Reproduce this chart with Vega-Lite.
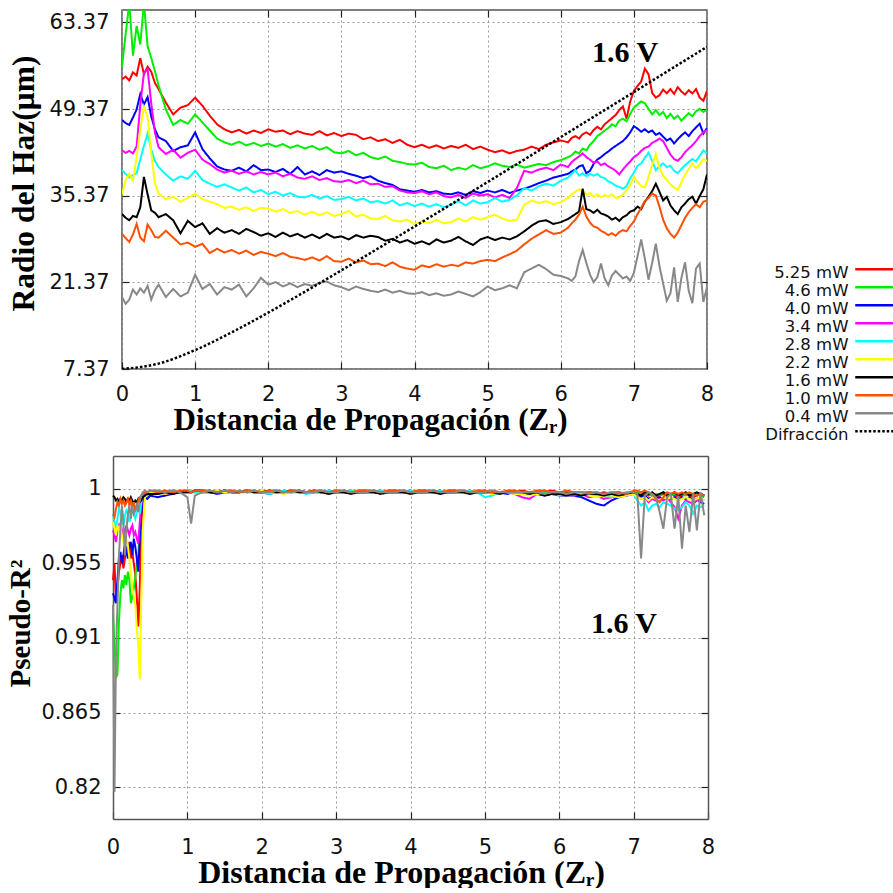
{
"$schema":"https://vega.github.io/schema/vega-lite/v6.json",
"padding":{"left":6,"top":8,"right":0,"bottom":0},
"background":"white",
"spacing":19,
"columns":1,
"align":"none",
"datasets":{
"top":[
{"x":0,"a":54.2,"b":56.2,"c":47.6,"d":42.7,"e":39.5,"f":35.6,"g":32.4,"h":29.2,"i":19.0},
{"x":0.05,"a":54.6,"b":61.5,"c":47.1,"d":42.3,"e":38.9,"f":37.9,"g":31.8,"h":28.5,"i":17.9},
{"x":0.1,"a":54.0,"b":66.5,"c":46.8,"d":42.6,"e":38.3,"f":38.9,"g":31.4,"h":27.9,"i":18.6},
{"x":0.15,"a":55.3,"b":58.0,"c":48.0,"d":42.2,"e":38.7,"f":37.8,"g":32.1,"h":29.1,"i":20.2},
{"x":0.2,"a":54.8,"b":62.8,"c":49.3,"d":43.3,"e":39.0,"f":41.6,"g":31.9,"h":30.8,"i":19.4},
{"x":0.25,"a":57.6,"b":59.8,"c":51.8,"d":50.0,"e":41.2,"f":46.1,"g":33.5,"h":28.6,"i":20.4},
{"x":0.3,"a":55.0,"b":66.5,"c":50.1,"d":55.2,"e":43.4,"f":49.7,"g":38.4,"h":28.0,"i":19.7},
{"x":0.35,"a":56.2,"b":59.5,"c":51.3,"d":55.8,"e":45.4,"f":48.1,"g":35.6,"h":30.7,"i":20.8},
{"x":0.4,"a":55.4,"b":57.6,"c":48.2,"d":50.3,"e":42.8,"f":42.2,"g":33.0,"h":29.8,"i":18.6},
{"x":0.45,"a":53.6,"b":55.5,"c":46.1,"d":45.6,"e":41.0,"f":37.4,"g":32.6,"h":28.7,"i":20.1},
{"x":0.5,"a":52.6,"b":53.2,"c":44.8,"d":43.2,"e":40.0,"f":35.7,"g":31.9,"h":28.6,"i":21.0},
{"x":0.6,"a":50.4,"b":49.3,"c":44.2,"d":42.1,"e":38.8,"f":34.8,"g":32.4,"h":29.7,"i":19.0},
{"x":0.7,"a":48.5,"b":46.8,"c":42.6,"d":42.8,"e":37.8,"f":35.2,"g":31.4,"h":28.6,"i":20.3},
{"x":0.8,"a":49.6,"b":47.6,"c":43.2,"d":41.5,"e":38.5,"f":34.4,"g":29.3,"h":27.5,"i":19.1},
{"x":0.9,"a":50.0,"b":47.0,"c":43.5,"d":42.3,"e":38.1,"f":35.0,"g":31.3,"h":27.8,"i":19.7},
{"x":1.0,"a":51.2,"b":48.5,"c":45.6,"d":42.8,"e":39.4,"f":35.7,"g":30.3,"h":27.1,"i":22.6},
{"x":1.1,"a":49.9,"b":47.2,"c":42.9,"d":41.2,"e":37.9,"f":34.8,"g":30.9,"h":27.6,"i":20.3},
{"x":1.2,"a":48.3,"b":45.9,"c":41.4,"d":40.5,"e":37.3,"f":34.4,"g":29.2,"h":26.1,"i":21.1},
{"x":1.3,"a":46.9,"b":44.6,"c":40.1,"d":39.6,"e":36.8,"f":34.0,"g":30.1,"h":26.8,"i":19.4},
{"x":1.4,"a":46.1,"b":44.0,"c":39.6,"d":39.1,"e":37.2,"f":33.4,"g":29.4,"h":26.2,"i":20.6},
{"x":1.5,"a":45.6,"b":43.6,"c":39.4,"d":39.4,"e":36.7,"f":33.6,"g":29.8,"h":26.6,"i":20.2},
{"x":1.6,"a":46.0,"b":44.1,"c":39.9,"d":38.9,"e":36.2,"f":33.1,"g":29.2,"h":26.0,"i":21.0},
{"x":1.7,"a":45.4,"b":43.5,"c":39.3,"d":39.3,"e":36.7,"f":33.5,"g":30.0,"h":26.5,"i":19.1},
{"x":1.8,"a":45.9,"b":43.9,"c":40.3,"d":38.8,"e":35.9,"f":32.9,"g":29.5,"h":25.8,"i":20.4},
{"x":1.9,"a":45.5,"b":43.4,"c":39.5,"d":39.2,"e":36.3,"f":33.4,"g":28.9,"h":26.3,"i":22.1},
{"x":2.0,"a":46.1,"b":43.8,"c":39.6,"d":38.8,"e":35.6,"f":33.3,"g":29.3,"h":26.0,"i":21.0},
{"x":2.1,"a":45.7,"b":43.3,"c":39.2,"d":39.1,"e":36.0,"f":32.8,"g":28.7,"h":25.6,"i":21.4},
{"x":2.2,"a":45.9,"b":43.7,"c":39.7,"d":38.5,"e":35.4,"f":33.2,"g":29.4,"h":26.1,"i":20.7},
{"x":2.3,"a":45.3,"b":43.1,"c":38.9,"d":38.9,"e":35.8,"f":32.6,"g":28.8,"h":25.5,"i":21.2},
{"x":2.4,"a":45.8,"b":43.5,"c":40.0,"d":38.3,"e":35.2,"f":32.9,"g":29.2,"h":25.3,"i":20.6},
{"x":2.5,"a":45.4,"b":43.0,"c":38.8,"d":38.1,"e":35.1,"f":32.3,"g":28.6,"h":25.0,"i":21.1},
{"x":2.6,"a":45.2,"b":43.4,"c":39.3,"d":38.5,"e":35.5,"f":32.8,"g":29.1,"h":25.4,"i":20.8},
{"x":2.7,"a":45.8,"b":42.8,"c":38.7,"d":37.9,"e":34.9,"f":32.2,"g":28.5,"h":24.9,"i":21.3},
{"x":2.8,"a":45.1,"b":43.2,"c":39.5,"d":38.2,"e":35.3,"f":32.7,"g":29.2,"h":25.6,"i":21.5},
{"x":2.9,"a":45.5,"b":42.4,"c":39.1,"d":37.7,"e":34.7,"f":32.1,"g":28.6,"h":24.8,"i":20.9},
{"x":3.0,"a":45.0,"b":42.2,"c":39.3,"d":37.6,"e":34.8,"f":32.4,"g":28.8,"h":24.7,"i":20.6},
{"x":3.1,"a":45.4,"b":42.6,"c":38.9,"d":37.9,"e":35.2,"f":32.9,"g":28.3,"h":25.2,"i":20.1},
{"x":3.2,"a":45.2,"b":41.9,"c":38.6,"d":37.4,"e":34.6,"f":32.0,"g":29.0,"h":24.6,"i":20.7},
{"x":3.3,"a":44.5,"b":42.3,"c":38.2,"d":37.8,"e":34.9,"f":32.3,"g":28.6,"h":24.9,"i":20.3},
{"x":3.4,"a":44.8,"b":41.6,"c":38.5,"d":37.2,"e":34.3,"f":31.7,"g":28.9,"h":24.3,"i":20.0},
{"x":3.5,"a":44.2,"b":41.3,"c":37.8,"d":37.3,"e":34.5,"f":31.6,"g":28.7,"h":24.4,"i":19.8},
{"x":3.6,"a":44.5,"b":41.7,"c":37.4,"d":36.8,"e":34.1,"f":32.1,"g":28.1,"h":24.0,"i":20.2},
{"x":3.7,"a":43.9,"b":41.0,"c":37.1,"d":36.9,"e":34.6,"f":31.4,"g":28.4,"h":24.6,"i":19.7},
{"x":3.8,"a":44.4,"b":40.8,"c":36.4,"d":36.2,"e":33.8,"f":31.2,"g":27.8,"h":23.9,"i":20.0},
{"x":3.9,"a":43.6,"b":40.5,"c":36.2,"d":35.9,"e":34.2,"f":31.5,"g":28.2,"h":23.6,"i":19.6},
{"x":4.0,"a":43.2,"b":40.4,"c":36.0,"d":35.8,"e":33.7,"f":30.8,"g":27.6,"h":23.4,"i":19.5},
{"x":4.1,"a":43.6,"b":40.7,"c":36.3,"d":36.1,"e":34.1,"f":31.2,"g":28.0,"h":24.1,"i":19.8},
{"x":4.2,"a":43.1,"b":40.0,"c":35.9,"d":35.6,"e":33.6,"f":30.9,"g":27.5,"h":23.8,"i":19.3},
{"x":4.3,"a":43.5,"b":39.8,"c":36.1,"d":35.9,"e":34.0,"f":31.5,"g":28.3,"h":24.3,"i":19.6},
{"x":4.4,"a":43.0,"b":40.2,"c":35.7,"d":35.3,"e":33.5,"f":30.9,"g":27.8,"h":23.9,"i":19.2},
{"x":4.5,"a":43.4,"b":39.5,"c":35.6,"d":35.1,"e":33.9,"f":31.1,"g":28.1,"h":24.2,"i":19.4},
{"x":4.6,"a":43.1,"b":39.9,"c":35.9,"d":35.5,"e":34.5,"f":31.7,"g":28.7,"h":24.0,"i":19.9},
{"x":4.7,"a":43.6,"b":39.6,"c":35.5,"d":35.0,"e":33.8,"f":31.2,"g":28.0,"h":24.6,"i":19.5},
{"x":4.8,"a":42.9,"b":40.3,"c":36.1,"d":35.7,"e":34.6,"f":31.9,"g":27.4,"h":24.4,"i":19.1},
{"x":4.9,"a":43.3,"b":39.8,"c":35.8,"d":35.4,"e":34.1,"f":31.5,"g":28.3,"h":24.8,"i":19.8},
{"x":5.0,"a":42.8,"b":40.1,"c":36.2,"d":35.6,"e":34.3,"f":31.9,"g":28.7,"h":25.0,"i":20.7},
{"x":5.1,"a":42.4,"b":40.6,"c":35.9,"d":35.1,"e":35.0,"f":32.3,"g":28.2,"h":24.8,"i":20.1},
{"x":5.2,"a":42.7,"b":40.2,"c":36.3,"d":35.5,"e":34.4,"f":31.7,"g":28.6,"h":25.4,"i":20.4},
{"x":5.3,"a":42.2,"b":40.0,"c":35.8,"d":35.0,"e":34.7,"f":31.3,"g":28.3,"h":25.9,"i":20.9},
{"x":5.4,"a":42.6,"b":40.4,"c":36.2,"d":36.6,"e":35.4,"f":31.5,"g":28.8,"h":26.5,"i":20.4},
{"x":5.5,"a":42.8,"b":39.9,"c":36.5,"d":39.4,"e":36.6,"f":33.9,"g":29.6,"h":27.5,"i":23.0},
{"x":5.6,"a":43.3,"b":40.2,"c":36.9,"d":39.1,"e":36.2,"f":34.6,"g":30.5,"h":28.4,"i":23.6},
{"x":5.7,"a":42.9,"b":40.5,"c":37.4,"d":39.6,"e":36.9,"f":34.2,"g":31.2,"h":29.1,"i":24.2},
{"x":5.8,"a":43.6,"b":40.3,"c":37.8,"d":39.9,"e":37.3,"f":34.5,"g":31.4,"h":29.8,"i":23.5},
{"x":5.9,"a":44.0,"b":40.8,"c":38.3,"d":39.5,"e":37.0,"f":34.0,"g":30.8,"h":29.2,"i":22.6},
{"x":6.0,"a":44.3,"b":41.1,"c":38.6,"d":40.4,"e":37.8,"f":34.3,"g":31.1,"h":29.4,"i":22.4},
{"x":6.1,"a":44.0,"b":41.6,"c":38.9,"d":40.0,"e":38.3,"f":35.0,"g":31.6,"h":30.2,"i":22.0},
{"x":6.15,"a":44.7,"b":41.9,"c":39.3,"d":40.8,"e":38.9,"f":35.6,"g":32.0,"h":30.9,"i":21.6},
{"x":6.2,"a":45.0,"b":42.5,"c":39.6,"d":41.3,"e":39.5,"f":36.0,"g":32.4,"h":31.5,"i":22.3},
{"x":6.25,"a":44.6,"b":42.2,"c":40.1,"d":41.7,"e":38.6,"f":36.4,"g":32.8,"h":32.3,"i":24.8},
{"x":6.3,"a":45.3,"b":43.0,"c":40.3,"d":42.2,"e":39.0,"f":36.2,"g":36.5,"h":33.6,"i":26.6},
{"x":6.35,"a":45.6,"b":42.7,"c":39.0,"d":41.6,"e":38.5,"f":35.5,"g":33.2,"h":32.0,"i":24.5},
{"x":6.4,"a":45.2,"b":43.6,"c":39.4,"d":41.2,"e":38.9,"f":35.8,"g":33.0,"h":31.0,"i":22.6},
{"x":6.45,"a":46.0,"b":44.2,"c":40.5,"d":40.7,"e":38.6,"f":35.2,"g":32.6,"h":30.4,"i":21.4},
{"x":6.5,"a":46.5,"b":45.0,"c":41.2,"d":40.9,"e":38.9,"f":35.6,"g":33.1,"h":30.2,"i":22.2},
{"x":6.55,"a":46.1,"b":45.4,"c":41.6,"d":40.3,"e":38.4,"f":35.1,"g":32.5,"h":29.7,"i":24.4},
{"x":6.6,"a":46.9,"b":45.9,"c":42.1,"d":40.6,"e":38.2,"f":35.5,"g":32.3,"h":29.4,"i":22.0},
{"x":6.65,"a":47.4,"b":46.3,"c":42.5,"d":40.1,"e":37.7,"f":35.2,"g":32.0,"h":29.0,"i":20.9},
{"x":6.7,"a":47.9,"b":46.9,"c":43.0,"d":39.8,"e":37.4,"f":35.6,"g":31.5,"h":29.3,"i":22.5},
{"x":6.75,"a":48.4,"b":46.6,"c":43.4,"d":39.4,"e":37.0,"f":35.0,"g":31.8,"h":28.9,"i":23.2},
{"x":6.8,"a":49.2,"b":47.5,"c":43.8,"d":38.8,"e":36.8,"f":35.1,"g":31.3,"h":29.5,"i":22.6},
{"x":6.85,"a":49.8,"b":47.8,"c":44.2,"d":39.6,"e":36.5,"f":35.6,"g":31.9,"h":29.8,"i":22.0},
{"x":6.9,"a":47.8,"b":47.4,"c":44.8,"d":40.3,"e":36.9,"f":36.2,"g":32.2,"h":29.6,"i":22.3},
{"x":6.95,"a":50.6,"b":48.6,"c":45.6,"d":40.9,"e":38.2,"f":37.1,"g":32.8,"h":30.5,"i":21.6},
{"x":7.0,"a":52.3,"b":49.6,"c":46.6,"d":41.6,"e":39.1,"f":38.4,"g":33.0,"h":31.2,"i":22.9},
{"x":7.05,"a":53.1,"b":50.1,"c":46.2,"d":42.0,"e":40.2,"f":37.6,"g":33.6,"h":32.4,"i":25.6},
{"x":7.1,"a":53.8,"b":50.6,"c":45.7,"d":42.6,"e":40.6,"f":36.9,"g":33.2,"h":33.4,"i":28.3},
{"x":7.15,"a":55.9,"b":50.3,"c":46.1,"d":43.1,"e":41.5,"f":36.7,"g":34.4,"h":34.5,"i":25.2},
{"x":7.2,"a":55.0,"b":49.4,"c":45.6,"d":43.3,"e":42.3,"f":38.4,"g":35.2,"h":35.0,"i":21.8},
{"x":7.25,"a":52.0,"b":48.5,"c":45.9,"d":43.9,"e":41.0,"f":40.3,"g":36.1,"h":35.7,"i":24.5},
{"x":7.3,"a":51.2,"b":49.2,"c":45.2,"d":44.2,"e":39.5,"f":42.1,"g":37.3,"h":35.4,"i":27.6},
{"x":7.35,"a":51.6,"b":48.4,"c":45.5,"d":44.6,"e":40.1,"f":39.8,"g":36.0,"h":33.6,"i":24.0},
{"x":7.4,"a":52.5,"b":48.9,"c":44.9,"d":44.2,"e":40.6,"f":38.6,"g":34.6,"h":31.5,"i":21.2},
{"x":7.45,"a":51.9,"b":47.9,"c":44.3,"d":43.1,"e":40.0,"f":37.9,"g":35.2,"h":30.1,"i":18.4},
{"x":7.5,"a":52.6,"b":48.6,"c":44.6,"d":42.0,"e":40.2,"f":37.2,"g":33.8,"h":29.2,"i":19.6},
{"x":7.55,"a":51.8,"b":47.8,"c":43.8,"d":41.3,"e":39.4,"f":36.7,"g":33.0,"h":28.6,"i":23.8},
{"x":7.6,"a":52.9,"b":48.3,"c":44.5,"d":41.0,"e":39.0,"f":36.3,"g":32.4,"h":29.4,"i":18.2},
{"x":7.65,"a":52.2,"b":47.5,"c":45.1,"d":41.6,"e":39.7,"f":37.5,"g":33.5,"h":30.6,"i":22.1},
{"x":7.7,"a":51.7,"b":48.1,"c":45.6,"d":42.4,"e":40.3,"f":38.8,"g":34.1,"h":31.8,"i":24.6},
{"x":7.75,"a":52.4,"b":48.7,"c":45.0,"d":43.0,"e":40.8,"f":39.7,"g":34.8,"h":32.7,"i":20.0},
{"x":7.8,"a":51.9,"b":48.2,"c":45.8,"d":43.5,"e":41.3,"f":40.6,"g":35.2,"h":33.4,"i":18.0},
{"x":7.85,"a":52.6,"b":49.0,"c":46.4,"d":44.2,"e":40.9,"f":39.8,"g":34.1,"h":34.0,"i":23.6},
{"x":7.9,"a":51.2,"b":49.4,"c":47.0,"d":45.0,"e":41.8,"f":40.4,"g":35.3,"h":33.5,"i":24.4},
{"x":7.95,"a":50.7,"b":48.9,"c":45.4,"d":45.6,"e":42.7,"f":41.3,"g":36.4,"h":34.4,"i":18.2},
{"x":8.0,"a":52.3,"b":49.3,"c":46.3,"d":46.0,"e":42.2,"f":41.0,"g":38.8,"h":34.6,"i":20.6}
],
"diff":[
{"x":0,"v":7.37,"k":"j"},{"x":0.5,"v":8.24,"k":"j"},{"x":1,"v":10.42,"k":"j"},{"x":1.5,"v":13.29,"k":"j"},
{"x":2,"v":16.48,"k":"j"},{"x":2.5,"v":19.84,"k":"j"},{"x":3,"v":23.31,"k":"j"},{"x":3.5,"v":26.83,"k":"j"},
{"x":4,"v":30.39,"k":"j"},{"x":4.5,"v":33.97,"k":"j"},{"x":5,"v":37.58,"k":"j"},{"x":5.5,"v":41.2,"k":"j"},
{"x":6,"v":44.83,"k":"j"},{"x":6.5,"v":48.47,"k":"j"},{"x":7,"v":52.11,"k":"j"},{"x":7.5,"v":55.77,"k":"j"},
{"x":8,"v":59.42,"k":"j"}
],
"bot":[
{"x":0,"a":0.945,"b":0.925,"c":0.937,"d":0.975,"e":0.985,"f":0.980,"g":0.996,"h":0.985,"i":0.930},
{"x":0.02,"a":0.955,"b":0.905,"c":0.934,"d":0.972,"e":0.980,"f":0.976,"g":0.995,"h":0.983,"i":0.817},
{"x":0.04,"a":0.932,"b":0.886,"c":0.931,"d":0.968,"e":0.976,"f":0.972,"g":0.993,"h":0.988,"i":0.900},
{"x":0.06,"a":0.940,"b":0.888,"c":0.945,"d":0.975,"e":0.982,"f":0.978,"g":0.994,"h":0.992,"i":0.930},
{"x":0.08,"a":0.950,"b":0.920,"c":0.958,"d":0.978,"e":0.988,"f":0.975,"g":0.992,"h":0.990,"i":0.960},
{"x":0.1,"a":0.955,"b":0.937,"c":0.962,"d":0.974,"e":0.986,"f":0.978,"g":0.994,"h":0.994,"i":0.975},
{"x":0.12,"a":0.960,"b":0.945,"c":0.955,"d":0.972,"e":0.982,"f":0.972,"g":0.993,"h":0.991,"i":0.990},
{"x":0.14,"a":0.952,"b":0.940,"c":0.960,"d":0.976,"e":0.978,"f":0.968,"g":0.995,"h":0.993,"i":0.980},
{"x":0.16,"a":0.958,"b":0.948,"c":0.967,"d":0.973,"e":0.984,"f":0.965,"g":0.994,"h":0.990,"i":0.960},
{"x":0.18,"a":0.965,"b":0.942,"c":0.962,"d":0.978,"e":0.987,"f":0.970,"g":0.992,"h":0.992,"i":0.975},
{"x":0.2,"a":0.962,"b":0.950,"c":0.958,"d":0.975,"e":0.985,"f":0.966,"g":0.994,"h":0.994,"i":0.985},
{"x":0.22,"a":0.968,"b":0.945,"c":0.965,"d":0.972,"e":0.980,"f":0.958,"g":0.993,"h":0.990,"i":0.990},
{"x":0.24,"a":0.958,"b":0.931,"c":0.968,"d":0.976,"e":0.983,"f":0.950,"g":0.995,"h":0.993,"i":0.982},
{"x":0.26,"a":0.962,"b":0.935,"c":0.960,"d":0.978,"e":0.988,"f":0.940,"g":0.993,"h":0.989,"i":0.990},
{"x":0.28,"a":0.955,"b":0.940,"c":0.970,"d":0.972,"e":0.985,"f":0.935,"g":0.991,"h":0.992,"i":0.985},
{"x":0.3,"a":0.948,"b":0.947,"c":0.965,"d":0.974,"e":0.982,"f":0.930,"g":0.993,"h":0.987,"i":0.987},
{"x":0.32,"a":0.935,"b":0.955,"c":0.958,"d":0.970,"e":0.986,"f":0.915,"g":0.992,"h":0.990,"i":0.990},
{"x":0.34,"a":0.917,"b":0.960,"c":0.950,"d":0.967,"e":0.990,"f":0.905,"g":0.994,"h":0.993,"i":0.986},
{"x":0.36,"a":0.940,"b":0.975,"c":0.970,"d":0.980,"e":0.985,"f":0.885,"g":0.992,"h":0.995,"i":0.993},
{"x":0.38,"a":0.975,"b":0.990,"c":0.985,"d":0.990,"e":0.992,"f":0.930,"g":0.993,"h":0.996,"i":0.996},
{"x":0.4,"a":0.993,"b":0.996,"c":0.994,"d":0.996,"e":0.997,"f":0.975,"g":0.995,"h":0.997,"i":0.998},
{"x":0.43,"a":0.996,"b":0.997,"c":0.995,"d":0.997,"e":0.998,"f":0.995,"g":0.996,"h":0.998,"i":0.999},
{"x":0.46,"a":0.997,"b":0.996,"c":0.994,"d":0.998,"e":0.998,"f":0.997,"g":0.997,"h":0.998,"i":0.998},
{"x":0.5,"a":0.998,"b":0.998,"c":0.996,"d":0.998,"e":0.999,"f":0.998,"g":0.997,"h":0.999,"i":0.999},
{"x":0.6,"a":0.998,"b":0.997,"c":0.995,"d":0.998,"e":0.998,"f":0.998,"g":0.997,"h":0.998,"i":0.999},
{"x":0.7,"a":0.998,"b":0.998,"c":0.996,"d":0.997,"e":0.998,"f":0.997,"g":0.998,"h":0.999,"i":0.998},
{"x":0.8,"a":0.999,"b":0.998,"c":0.997,"d":0.998,"e":0.999,"f":0.998,"g":0.997,"h":0.998,"i":0.999},
{"x":0.9,"a":0.998,"b":0.999,"c":0.998,"d":0.998,"e":0.998,"f":0.998,"g":0.998,"h":0.999,"i":0.998},
{"x":1.0,"a":0.999,"b":0.998,"c":0.998,"d":0.999,"e":0.998,"f":0.999,"g":0.998,"h":0.999,"i":0.995},
{"x":1.05,"a":0.998,"b":0.999,"c":0.998,"d":0.998,"e":0.999,"f":0.998,"g":0.998,"h":0.998,"i":0.979},
{"x":1.1,"a":0.999,"b":0.998,"c":0.999,"d":0.998,"e":0.998,"f":0.999,"g":0.999,"h":0.999,"i":0.996},
{"x":1.2,"a":0.998,"b":0.998,"c":0.998,"d":0.999,"e":0.998,"f":0.998,"g":0.999,"h":0.999,"i":0.998},
{"x":1.3,"a":0.999,"b":0.998,"c":0.998,"d":0.998,"e":0.999,"f":0.998,"g":0.998,"h":0.999,"i":0.999},
{"x":1.4,"a":0.998,"b":0.999,"c":0.997,"d":0.998,"e":0.998,"f":0.999,"g":0.998,"h":0.998,"i":0.998},
{"x":1.5,"a":0.999,"b":0.998,"c":0.998,"d":0.999,"e":0.998,"f":0.998,"g":0.999,"h":0.999,"i":0.999},
{"x":1.6,"a":0.998,"b":0.998,"c":0.998,"d":0.998,"e":0.999,"f":0.998,"g":0.998,"h":0.999,"i":0.998},
{"x":1.7,"a":0.999,"b":0.999,"c":0.998,"d":0.998,"e":0.998,"f":0.999,"g":0.998,"h":0.998,"i":0.999},
{"x":1.8,"a":0.998,"b":0.998,"c":0.999,"d":0.999,"e":0.998,"f":0.998,"g":0.999,"h":0.999,"i":0.998},
{"x":1.9,"a":0.999,"b":0.998,"c":0.998,"d":0.998,"e":0.999,"f":0.998,"g":0.998,"h":0.999,"i":0.999},
{"x":2.0,"a":0.998,"b":0.999,"c":0.998,"d":0.998,"e":0.998,"f":0.999,"g":0.998,"h":0.998,"i":0.998},
{"x":2.1,"a":0.998,"b":0.998,"c":0.997,"d":0.999,"e":0.997,"f":0.998,"g":0.999,"h":0.999,"i":0.998},
{"x":2.2,"a":0.999,"b":0.998,"c":0.998,"d":0.998,"e":0.998,"f":0.998,"g":0.998,"h":0.999,"i":0.999},
{"x":2.3,"a":0.998,"b":0.999,"c":0.998,"d":0.998,"e":0.999,"f":0.997,"g":0.998,"h":0.998,"i":0.998},
{"x":2.4,"a":0.998,"b":0.998,"c":0.998,"d":0.999,"e":0.998,"f":0.998,"g":0.999,"h":0.999,"i":0.998},
{"x":2.5,"a":0.999,"b":0.998,"c":0.999,"d":0.998,"e":0.998,"f":0.998,"g":0.998,"h":0.999,"i":0.999},
{"x":2.6,"a":0.998,"b":0.998,"c":0.998,"d":0.998,"e":0.997,"f":0.998,"g":0.998,"h":0.998,"i":0.998},
{"x":2.7,"a":0.998,"b":0.999,"c":0.998,"d":0.999,"e":0.998,"f":0.999,"g":0.999,"h":0.999,"i":0.998},
{"x":2.8,"a":0.999,"b":0.998,"c":0.998,"d":0.998,"e":0.998,"f":0.998,"g":0.998,"h":0.999,"i":0.999},
{"x":2.9,"a":0.998,"b":0.998,"c":0.999,"d":0.998,"e":0.999,"f":0.998,"g":0.997,"h":0.998,"i":0.998},
{"x":3.0,"a":0.998,"b":0.999,"c":0.998,"d":0.999,"e":0.998,"f":0.998,"g":0.998,"h":0.999,"i":0.998},
{"x":3.1,"a":0.999,"b":0.998,"c":0.998,"d":0.998,"e":0.998,"f":0.998,"g":0.998,"h":0.999,"i":0.999},
{"x":3.2,"a":0.998,"b":0.998,"c":0.999,"d":0.998,"e":0.999,"f":0.998,"g":0.997,"h":0.998,"i":0.998},
{"x":3.3,"a":0.998,"b":0.998,"c":0.998,"d":0.999,"e":0.998,"f":0.999,"g":0.998,"h":0.999,"i":0.998},
{"x":3.4,"a":0.998,"b":0.999,"c":0.998,"d":0.999,"e":0.998,"f":0.998,"g":0.998,"h":0.999,"i":0.998},
{"x":3.5,"a":0.999,"b":0.998,"c":0.998,"d":0.998,"e":0.998,"f":0.998,"g":0.998,"h":0.999,"i":0.999},
{"x":3.6,"a":0.998,"b":0.998,"c":0.999,"d":0.998,"e":0.999,"f":0.998,"g":0.997,"h":0.998,"i":0.998},
{"x":3.7,"a":0.998,"b":0.998,"c":0.998,"d":0.999,"e":0.998,"f":0.999,"g":0.998,"h":0.999,"i":0.998},
{"x":3.8,"a":0.998,"b":0.999,"c":0.998,"d":0.999,"e":0.998,"f":0.998,"g":0.998,"h":0.999,"i":0.998},
{"x":3.9,"a":0.999,"b":0.998,"c":0.998,"d":0.998,"e":0.998,"f":0.998,"g":0.998,"h":0.999,"i":0.999},
{"x":4.0,"a":0.998,"b":0.998,"c":0.999,"d":0.998,"e":0.999,"f":0.998,"g":0.997,"h":0.998,"i":0.998},
{"x":4.1,"a":0.998,"b":0.998,"c":0.998,"d":0.999,"e":0.998,"f":0.999,"g":0.998,"h":0.999,"i":0.998},
{"x":4.2,"a":0.998,"b":0.999,"c":0.998,"d":0.999,"e":0.998,"f":0.998,"g":0.998,"h":0.999,"i":0.998},
{"x":4.3,"a":0.999,"b":0.998,"c":0.998,"d":0.998,"e":0.998,"f":0.998,"g":0.998,"h":0.999,"i":0.999},
{"x":4.4,"a":0.998,"b":0.998,"c":0.999,"d":0.998,"e":0.999,"f":0.998,"g":0.997,"h":0.998,"i":0.998},
{"x":4.5,"a":0.998,"b":0.998,"c":0.998,"d":0.999,"e":0.998,"f":0.999,"g":0.998,"h":0.999,"i":0.998},
{"x":4.6,"a":0.998,"b":0.999,"c":0.998,"d":0.999,"e":0.998,"f":0.998,"g":0.998,"h":0.999,"i":0.998},
{"x":4.7,"a":0.999,"b":0.998,"c":0.998,"d":0.998,"e":0.998,"f":0.998,"g":0.998,"h":0.999,"i":0.999},
{"x":4.8,"a":0.998,"b":0.998,"c":0.999,"d":0.998,"e":0.999,"f":0.998,"g":0.997,"h":0.998,"i":0.998},
{"x":4.9,"a":0.998,"b":0.998,"c":0.998,"d":0.999,"e":0.998,"f":0.999,"g":0.998,"h":0.999,"i":0.998},
{"x":5.0,"a":0.998,"b":0.999,"c":0.998,"d":0.998,"e":0.995,"f":0.998,"g":0.998,"h":0.999,"i":0.998},
{"x":5.1,"a":0.999,"b":0.998,"c":0.998,"d":0.998,"e":0.996,"f":0.997,"g":0.998,"h":0.998,"i":0.999},
{"x":5.2,"a":0.998,"b":0.998,"c":0.998,"d":0.998,"e":0.998,"f":0.998,"g":0.997,"h":0.998,"i":0.998},
{"x":5.3,"a":0.998,"b":0.998,"c":0.997,"d":0.998,"e":0.998,"f":0.998,"g":0.998,"h":0.999,"i":0.998},
{"x":5.4,"a":0.998,"b":0.999,"c":0.998,"d":0.997,"e":0.998,"f":0.997,"g":0.998,"h":0.999,"i":0.998},
{"x":5.5,"a":0.999,"b":0.998,"c":0.997,"d":0.995,"e":0.997,"f":0.997,"g":0.998,"h":0.998,"i":0.998},
{"x":5.6,"a":0.998,"b":0.997,"c":0.997,"d":0.994,"e":0.997,"f":0.996,"g":0.997,"h":0.998,"i":0.998},
{"x":5.7,"a":0.998,"b":0.998,"c":0.997,"d":0.997,"e":0.998,"f":0.997,"g":0.998,"h":0.999,"i":0.998},
{"x":5.8,"a":0.998,"b":0.998,"c":0.996,"d":0.997,"e":0.997,"f":0.997,"g":0.996,"h":0.999,"i":0.997},
{"x":5.9,"a":0.999,"b":0.998,"c":0.997,"d":0.997,"e":0.998,"f":0.997,"g":0.997,"h":0.998,"i":0.998},
{"x":6.0,"a":0.998,"b":0.998,"c":0.996,"d":0.997,"e":0.996,"f":0.997,"g":0.997,"h":0.998,"i":0.998},
{"x":6.1,"a":0.998,"b":0.997,"c":0.996,"d":0.997,"e":0.997,"f":0.996,"g":0.996,"h":0.999,"i":0.997},
{"x":6.2,"a":0.998,"b":0.998,"c":0.996,"d":0.996,"e":0.997,"f":0.997,"g":0.997,"h":0.998,"i":0.998},
{"x":6.3,"a":0.997,"b":0.997,"c":0.995,"d":0.997,"e":0.996,"f":0.997,"g":0.996,"h":0.998,"i":0.998},
{"x":6.4,"a":0.998,"b":0.997,"c":0.993,"d":0.995,"e":0.997,"f":0.996,"g":0.997,"h":0.998,"i":0.997},
{"x":6.5,"a":0.997,"b":0.996,"c":0.991,"d":0.996,"e":0.996,"f":0.995,"g":0.997,"h":0.998,"i":0.998},
{"x":6.6,"a":0.998,"b":0.997,"c":0.990,"d":0.994,"e":0.996,"f":0.996,"g":0.996,"h":0.997,"i":0.997},
{"x":6.7,"a":0.997,"b":0.996,"c":0.993,"d":0.995,"e":0.995,"f":0.996,"g":0.997,"h":0.998,"i":0.998},
{"x":6.8,"a":0.998,"b":0.997,"c":0.995,"d":0.996,"e":0.996,"f":0.995,"g":0.996,"h":0.998,"i":0.997},
{"x":6.9,"a":0.997,"b":0.997,"c":0.996,"d":0.996,"e":0.997,"f":0.996,"g":0.997,"h":0.997,"i":0.998},
{"x":7.0,"a":0.998,"b":0.998,"c":0.997,"d":0.997,"e":0.997,"f":0.997,"g":0.998,"h":0.999,"i":0.998},
{"x":7.05,"a":0.997,"b":0.998,"c":0.996,"d":0.996,"e":0.993,"f":0.995,"g":0.997,"h":0.999,"i":0.997},
{"x":7.1,"a":0.996,"b":0.997,"c":0.995,"d":0.994,"e":0.990,"f":0.994,"g":0.996,"h":0.998,"i":0.958},
{"x":7.15,"a":0.997,"b":0.998,"c":0.996,"d":0.995,"e":0.992,"f":0.995,"g":0.998,"h":0.999,"i":0.996},
{"x":7.2,"a":0.996,"b":0.997,"c":0.994,"d":0.992,"e":0.987,"f":0.993,"g":0.997,"h":0.998,"i":0.998},
{"x":7.25,"a":0.997,"b":0.996,"c":0.995,"d":0.994,"e":0.990,"f":0.995,"g":0.998,"h":0.997,"i":0.997},
{"x":7.3,"a":0.995,"b":0.997,"c":0.994,"d":0.993,"e":0.991,"f":0.994,"g":0.996,"h":0.994,"i":0.995},
{"x":7.35,"a":0.996,"b":0.996,"c":0.995,"d":0.994,"e":0.989,"f":0.993,"g":0.997,"h":0.992,"i":0.986},
{"x":7.4,"a":0.997,"b":0.998,"c":0.994,"d":0.993,"e":0.992,"f":0.995,"g":0.998,"h":0.995,"i":0.976},
{"x":7.45,"a":0.996,"b":0.997,"c":0.995,"d":0.995,"e":0.991,"f":0.994,"g":0.996,"h":0.998,"i":0.995},
{"x":7.5,"a":0.997,"b":0.996,"c":0.994,"d":0.992,"e":0.990,"f":0.995,"g":0.997,"h":0.997,"i":0.997},
{"x":7.55,"a":0.996,"b":0.997,"c":0.995,"d":0.989,"e":0.988,"f":0.994,"g":0.998,"h":0.998,"i":0.976},
{"x":7.6,"a":0.995,"b":0.996,"c":0.993,"d":0.982,"e":0.987,"f":0.993,"g":0.996,"h":0.997,"i":0.996},
{"x":7.65,"a":0.996,"b":0.997,"c":0.995,"d":0.990,"e":0.989,"f":0.994,"g":0.997,"h":0.998,"i":0.964},
{"x":7.7,"a":0.997,"b":0.996,"c":0.994,"d":0.993,"e":0.992,"f":0.995,"g":0.998,"h":0.997,"i":0.990},
{"x":7.75,"a":0.996,"b":0.997,"c":0.995,"d":0.992,"e":0.990,"f":0.994,"g":0.996,"h":0.998,"i":0.974},
{"x":7.8,"a":0.995,"b":0.996,"c":0.993,"d":0.991,"e":0.985,"f":0.993,"g":0.997,"h":0.997,"i":0.997},
{"x":7.85,"a":0.996,"b":0.997,"c":0.994,"d":0.993,"e":0.990,"f":0.994,"g":0.998,"h":0.996,"i":0.975},
{"x":7.9,"a":0.997,"b":0.996,"c":0.992,"d":0.994,"e":0.989,"f":0.995,"g":0.997,"h":0.997,"i":0.998},
{"x":7.95,"a":0.996,"b":0.995,"c":0.991,"d":0.993,"e":0.990,"f":0.993,"g":0.996,"h":0.996,"i":0.984}
]
},
"config":{
"view":{"stroke":"#555","strokeWidth":1.5},
"axis":{"domain":false,"grid":true,"gridColor":"#9a9a9a","gridDash":[2,3],"gridWidth":1,"ticks":true,"tickColor":"#222","tickSize":-7,"tickWidth":1.2,"labelFont":"DejaVu Sans","labelFontSize":21,"labelColor":"#111","titleFont":"Liberation Serif","titleFontWeight":"bold","titleColor":"#000","labelFlush":false,"labelOverlap":false,"labelExpr":"'' + datum.value","domainColor":"#555","domainWidth":1.5},
"legend":{"padding":0,"rowPadding":0,"symbolType":"M-3.17,-0.67H3.17","symbolSize":144,"symbolStrokeWidth":2.5,"labelFont":"DejaVu Sans","labelFontSize":16.5,"labelColor":"#111","labelAlign":"right","labelOffset":-34,"labelLimit":300},
"text":{"font":"Liberation Serif","fontWeight":"bold","fontSize":30,"color":"#000"}
},
"concat":[
{
"width":585,"height":359,
"resolve":{"axis":{"x":"independent","y":"independent"}},
"layer":[
{"data":{"name":"top"},
"transform":[{"fold":["a","b","c","d","e","f","g","h","i"],"as":["k","v"]}],
"mark":{"type":"line","strokeWidth":2,"clip":true},
"encoding":{
"x":{"field":"x","type":"quantitative","scale":{"domain":[0,8],"nice":false},"axis":{"orient":"bottom","values":[0,1,2,3,4,5,6,7,8],"title":"Distancia de Propagación (Zᵣ)","titleFontSize":31,"titleX":248,"labelPadding":21,"labelDx":4,"titlePadding":1}},
"y":{"field":"v","type":"quantitative","scale":{"domain":[7.37,65.37],"nice":false,"zero":false},"axis":{"orient":"left","values":[7.37,21.37,35.37,49.37,63.37],"title":"Radio del Haz(μm)","titleFontSize":31.5,"titleY":173,"labelPadding":20,"titlePadding":8}},
"color":{"field":"k","type":"nominal","scale":{"domain":["a","b","c","d","e","f","g","h","i","j"],"range":["#ff0000","#00ee00","#0000ff","#ff00ff","#00ffff","#ffff00","#000000","#ff5000","#888888","#000000"]},"legend":{"orient":"none","legendX":744,"legendY":255,"title":null,"labelExpr":"{'a':'5.25 mW','b':'4.6 mW','c':'4.0 mW','d':'3.4 mW','e':'2.8 mW','f':'2.2 mW','g':'1.6 mW','h':'1.0 mW','i':'0.4 mW','j':'Difracción'}[datum.label]"}},
"strokeDash":{"field":"k","type":"nominal","scale":{"domain":["a","b","c","d","e","f","g","h","i","j"],"range":[[1,0],[1,0],[1,0],[1,0],[1,0],[1,0],[1,0],[1,0],[1,0],[2.5,2]]},"legend":{"orient":"none","legendX":744,"legendY":255,"title":null,"labelExpr":"{'a':'5.25 mW','b':'4.6 mW','c':'4.0 mW','d':'3.4 mW','e':'2.8 mW','f':'2.2 mW','g':'1.6 mW','h':'1.0 mW','i':'0.4 mW','j':'Difracción'}[datum.label]"}}
}},
{"data":{"name":"diff"},
"mark":{"type":"line","strokeWidth":2.5,"interpolate":"monotone","clip":true},
"encoding":{
"x":{"field":"x","type":"quantitative","axis":null},
"y":{"field":"v","type":"quantitative","axis":null},
"color":{"field":"k","type":"nominal"},
"strokeDash":{"field":"k","type":"nominal"}
}},
{"data":{"values":[{"x":6.88,"v":57.0,"t":"1.6 V"}]},
"mark":{"type":"text","align":"center","baseline":"alphabetic"},
"encoding":{
"x":{"field":"x","type":"quantitative","axis":{"orient":"top","values":[1,2,3,4,5,6,7],"labels":false,"title":null,"grid":false,"domain":false}},
"y":{"field":"v","type":"quantitative","axis":{"orient":"right","values":[21.37,35.37,49.37,63.37],"labels":false,"title":null,"grid":false,"domain":false}},
"text":{"field":"t"}
}}
]
},
{
"width":586,"height":363,
"view":{"stroke":null},
"resolve":{"axis":{"x":"independent","y":"independent"}},
"layer":[
{"data":{"name":"bot"},
"transform":[{"fold":["a","b","c","d","e","f","g","h","i"],"as":["k","v"]}],
"mark":{"type":"line","strokeWidth":2,"clip":false},
"encoding":{
"x":{"field":"x","type":"quantitative","scale":{"domain":[0,8],"range":[-9,586],"nice":false},"axis":{"orient":"bottom","domain":true,"values":[0,1,2,3,4,5,6,7,8],"title":"Distancia de Propagación (Zᵣ)","titleFontSize":32,"titleX":279,"labelPadding":24,"labelDx":4,"titlePadding":0}},
"y":{"field":"v","type":"quantitative","scale":{"domain":[0.8007,1.0199],"nice":false,"zero":false},"axis":{"orient":"left","offset":9,"domain":true,"values":[0.82,0.865,0.91,0.955,1],"title":"Pseudo-R²","titleFontSize":29,"titleY":167,"labelPadding":19,"titlePadding":5}},
"color":{"field":"k","type":"nominal"},
"strokeDash":{"field":"k","type":"nominal"}
}},
{"data":{"values":[{"x":6.87,"v":0.913,"t":"1.6 V"}]},
"mark":{"type":"text","align":"center","baseline":"alphabetic"},
"encoding":{
"x":{"field":"x","type":"quantitative","axis":{"orient":"top","domain":true,"values":[1,2,3,4,5,6,7],"labels":false,"title":null,"grid":false}},
"y":{"field":"v","type":"quantitative","axis":{"orient":"right","domain":true,"values":[0.82,0.865,0.91,0.955,1],"labels":false,"title":null,"grid":false}},
"text":{"field":"t"}
}}
]
}
]
}
